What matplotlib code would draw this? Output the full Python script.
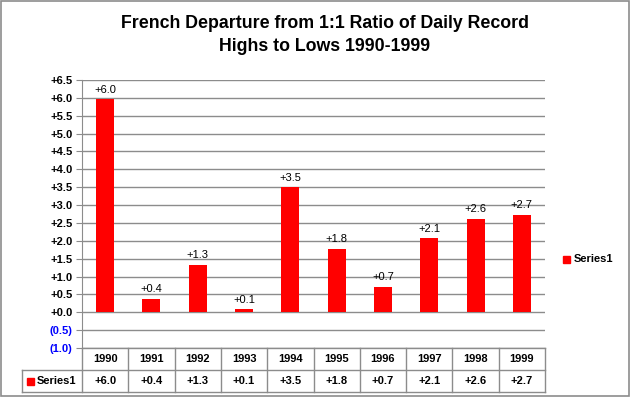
import matplotlib
matplotlib.use("Agg")
import matplotlib.pyplot as plt
from matplotlib.lines import Line2D
from matplotlib.patches import Rectangle
from matplotlib.transforms import blended_transform_factory

years = ["1990", "1991", "1992", "1993", "1994", "1995", "1996", "1997", "1998", "1999"]
values = [5.96, 0.38, 1.33, 0.09, 3.50, 1.78, 0.72, 2.08, 2.62, 2.73]
labels = ["+6.0", "+0.4", "+1.3", "+0.1", "+3.5", "+1.8", "+0.7", "+2.1", "+2.6", "+2.7"]
series_name = "Series1"

W, H = 630, 397
plt.rcParams['font.family'] = ['Liberation Sans', 'DejaVu Sans']
fig = plt.figure(figsize=(W / 100, H / 100), dpi=100)

def fx(px):
    return px / W

def fy(py):
    return 1 - py / H

left, right, top, bottom = 82, 545, 80, 348
ax = fig.add_axes([fx(left), fy(bottom), fx(right) - fx(left), fy(top) - fy(bottom)])

grid_c = "#8c8c8c"
x = list(range(len(years)))
ax.bar(x, values, width=0.39, color="#ff0000", zorder=3)
for xi, v, lab in zip(x, values, labels):
    ax.text(xi, v + 0.12, lab, ha="center", va="bottom", fontsize=8)

ax.set_xlim(-0.5, len(years) - 0.5)
ax.set_ylim(-1.0, 6.5)
ticks = [i * 0.5 for i in range(-2, 14)]
ax.set_yticks(ticks)
ticklabels = []
for t in ticks:
    ticklabels.append("(%.1f)" % abs(t) if t < 0 else "+%.1f" % t)
ax.set_yticklabels(ticklabels, fontsize=8, fontweight="bold")
for t, tl in zip(ticks, ax.get_yticklabels()):
    if t < 0:
        tl.set_color("#0000ff")
ax.set_xticks([])
ax.tick_params(axis="y", length=4, color=grid_c, pad=3)
ax.yaxis.grid(True, color=grid_c, linewidth=1)
ax.set_axisbelow(True)
for s in ["top", "right", "bottom"]:
    ax.spines[s].set_visible(False)
ax.spines["left"].set_color(grid_c)

# data table below the plot
r0, r1, r2 = 348, 370, 392
tleft = 22
lines = [
    ((left, right), (r0, r0)),
    ((tleft, right), (r1, r1)),
    ((tleft, right), (r2, r2)),
    ((tleft, tleft), (r1, r2)),
]
colw = (right - left) / len(years)
for i in range(len(years) + 1):
    xp = left + i * colw
    lines.append(((xp, xp), (r0, r2)))
for (xs, ys) in lines:
    fig.add_artist(Line2D([fx(xs[0]), fx(xs[1])], [fy(ys[0]), fy(ys[1])],
                          color=grid_c, linewidth=1))

tr = blended_transform_factory(ax.transData, fig.transFigure)
for xi, yr, lab in zip(x, years, labels):
    ax.text(xi, fy((r0 + r1) / 2), yr, transform=tr, ha="center", va="center",
            fontsize=8, fontweight="bold", clip_on=False)
    ax.text(xi, fy((r1 + r2) / 2), lab, transform=tr, ha="center", va="center",
            fontsize=8, fontweight="bold", clip_on=False)
fig.add_artist(Rectangle((fx(27), fy(385)), fx(7), 7 / H, color="#ff0000"))
fig.text(fx(37), fy((r1 + r2) / 2), series_name, ha="left", va="center",
         fontsize=8, fontweight="bold")

# legend
fig.add_artist(Rectangle((fx(563), fy(263)), fx(7), 7 / H, color="#ff0000"))
fig.text(fx(574), fy(259.5), series_name, ha="left", va="center",
         fontsize=8, fontweight="bold")

fig.text(fx(325), fy(35), "French Departure from 1:1 Ratio of Daily Record\nHighs to Lows 1990-1999",
         ha="center", va="center", fontsize=12.8, fontweight="bold", linespacing=1.45)

fig.add_artist(Rectangle((0.001, 0.002), 0.997, 0.996, fill=False,
                         edgecolor="#8c8c8c", linewidth=1.2))

fig.savefig("out.png", dpi=100)
